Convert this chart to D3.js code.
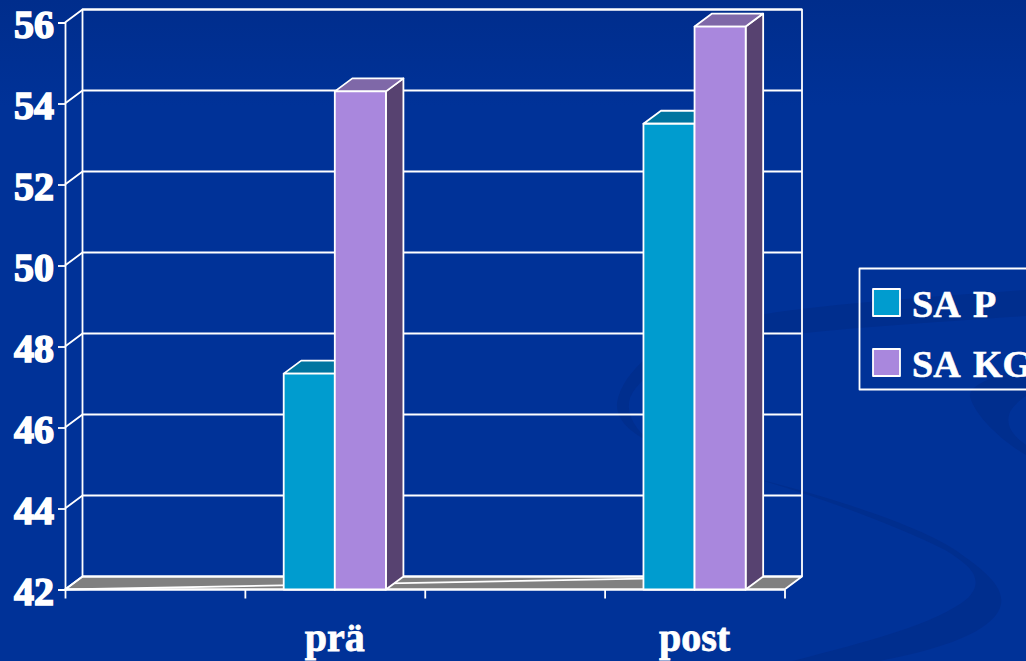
<!DOCTYPE html>
<html>
<head>
<meta charset="utf-8">
<script src="https://cdn.jsdelivr.net/npm/d3@7"></script>
<style>
    html, body { margin: 0; padding: 0; background: #003298; overflow: hidden; }
    text { font-family: "Liberation Serif", serif; font-weight: bold; fill: #fff; stroke: #fff; }
</style>
</head>
<body>
<div id="chart"></div>
<script>
// values
const categories = ["", "prä", " ", "post"];
const saP = [null, 47.33, null, 53.5];
const saKG = [null, 54.3, null, 55.9];
const seriesNames = ["SA P", "SA KG"];
const yTicks = [42, 44, 46, 48, 50, 52, 54, 56];
const floorStreak = [42, 42.27];

const colors = {
    "SA P": { front: "#009ccf", top: "#0075a0", side: "#00587a" },
    "SA KG": { front: "#a987dd", top: "#7f68a8", side: "#574270" }
};

const W = 1026, H = 661;
const depth = { x: 17.5, y: -13 };

const svg = d3.select("#chart")
    .append("svg")
    .attr("width", W)
    .attr("height", H)
    .style("display", "block");

// background
const defs = svg.append("defs");
const bg = defs.append("linearGradient")
    .attr("id", "bg")
    .attr("x1", 0).attr("y1", 0).attr("x2", 0).attr("y2", 1);
bg.append("stop").attr("offset", "0").attr("stop-color", "#002d8c");
bg.append("stop").attr("offset", "0.16").attr("stop-color", "#003298");
bg.append("stop").attr("offset", "1").attr("stop-color", "#003298");

svg.append("rect").attr("width", W).attr("height", H).attr("fill", "url(#bg)");

const swooshes = [
    "M750,477 C830,497 930,528 965,557 C995,578 1008,595 998,612 C975,650 860,665 790,675 L740,675 C830,650 930,630 968,598 C985,580 972,566 945,550 C895,525 820,497 750,477 Z",
    "M1026,290 C920,298 800,305 720,322 C660,338 622,372 617,403 C616,420 630,432 650,442 C632,425 626,412 630,398 C642,370 690,345 760,338 C840,328 940,322 1026,316 Z",
    "M1026,368 C995,375 968,385 970,397 C975,415 1000,440 1026,455 L1026,445 C1012,435 1005,425 1010,412 C1014,405 1020,400 1026,396 Z"
];
svg.append("g")
    .selectAll("path")
    .data(swooshes)
    .join("path")
    .attr("d", d => d)
    .attr("fill", "#002e8e");

// scales
const x = d3.scaleBand()
    .domain(d3.range(categories.length))
    .range([65, 784.5]);

const xGroup = d3.scaleBand()
    .domain(seriesNames)
    .range([0, x.bandwidth()])
    .paddingOuter(0.76)
    .paddingInner(0);

const y = d3.scaleLinear()
    .domain([42, 56])
    .range([589.5, 22.5]);

const poly = pts => pts.map(p => p.join(",")).join(" ");
const line = { stroke: "#fff", "stroke-width": 1.8, "stroke-linejoin": "round" };
function style(sel) {
    Object.keys(line).forEach(k => sel.attr(k, line[k]));
    return sel;
}

const [x0, x1] = x.range();
const [y0, y1] = y.range();

// floor
style(svg.append("polygon")
    .attr("points", poly([[x0, y0], [x0 + depth.x, y0 + depth.y], [x1 + depth.x, y0 + depth.y], [x1, y0]]))
    .attr("fill", "#808080"));

// thin streak on the floor
const streakEnd = x(3) + xGroup(seriesNames[0]);
style(svg.append("line")
    .attr("x1", x0).attr("y1", y(floorStreak[0]))
    .attr("x2", streakEnd).attr("y2", y(floorStreak[1]))
    .attr("fill", "none"));

// back wall and grid
const wall = svg.append("g").attr("fill", "none");
style(wall.append("polyline")
    .attr("points", poly([[x0 + depth.x, y0 + depth.y], [x0 + depth.x, y1 + depth.y], [x1 + depth.x, y1 + depth.y], [x1 + depth.x, y0 + depth.y]])));

yTicks.forEach(t => {
    style(wall.append("polyline")
        .attr("points", poly([[x0, y(t)], [x0 + depth.x, y(t) + depth.y], [x1 + depth.x, y(t) + depth.y]])));
});

// axes
const yAxis = d3.axisLeft(y)
    .tickValues(yTicks)
    .tickSize(7)
    .tickPadding(4);

const yG = svg.append("g")
    .attr("transform", `translate(${x0},0)`)
    .call(yAxis);
yG.selectAll(".domain, .tick line").attr("stroke", "#fff").attr("stroke-width", 1.8);
yG.selectAll("text")
    .attr("font-size", 40)
    .attr("stroke-width", 1.6)
    .attr("dy", "0.37em")
    .attr("font-family", "Liberation Serif");

const xEdges = d3.scaleLinear()
    .domain([0, categories.length])
    .range(x.range());

const xG = svg.append("g")
    .attr("transform", `translate(0,${y0})`)
    .call(d3.axisBottom(xEdges).ticks(categories.length).tickSize(9).tickFormat(""));
xG.selectAll(".domain").attr("stroke", "#fff").attr("stroke-width", 1.8).attr("d", `M${x0},0H${x1}`);
xG.selectAll(".tick line").attr("stroke", "#fff").attr("stroke-width", 1.8);

svg.append("g")
    .selectAll("text")
    .data(categories)
    .join("text")
    .attr("x", (d, i) => x(i) + x.bandwidth() / 2)
    .attr("y", 651)
    .attr("text-anchor", "middle")
    .attr("font-size", 40)
    .attr("stroke-width", 0.8)
    .text(d => d.trim());

// bars, drawn per category and series so the right bar overlaps the left one
const bars = [];
categories.forEach((c, i) => {
    [saP, saKG].forEach((values, s) => {
        if (values[i] != null) bars.push({ i, name: seriesNames[s], value: values[i] });
    });
});

const barG = svg.append("g")
    .selectAll("g")
    .data(bars)
    .join("g");

barG.each(function (d) {
    const g = d3.select(this);
    const left = x(d.i) + xGroup(d.name);
    const right = left + xGroup.bandwidth();
    const top = y(d.value);
    const c = colors[d.name];

    style(g.append("polygon")
        .attr("points", poly([[right, y0], [right + depth.x, y0 + depth.y], [right + depth.x, top + depth.y], [right, top]]))
        .attr("fill", c.side));
    style(g.append("polygon")
        .attr("points", poly([[left, top], [left + depth.x, top + depth.y], [right + depth.x, top + depth.y], [right, top]]))
        .attr("fill", c.top));
    style(g.append("rect")
        .attr("x", left)
        .attr("y", top)
        .attr("width", right - left)
        .attr("height", y0 - top)
        .attr("fill", c.front));
});

// legend, the last label runs off the page as it does in the reference
const legend = svg.append("g");
style(legend.append("rect")
    .attr("x", 859.5).attr("y", 268.5)
    .attr("width", 200).attr("height", 121)
    .attr("fill", "none"));

const legendItems = legend.selectAll("g")
    .data(seriesNames)
    .join("g")
    .attr("transform", (d, i) => `translate(873,${289 + i * 60})`);

style(legendItems.append("rect")
    .attr("width", 27).attr("height", 27)
    .attr("fill", d => colors[d].front));

legendItems.append("text")
    .attr("x", 39)
    .attr("y", 28)
    .attr("font-size", 38)
    .attr("stroke-width", 0.6)
    .attr("word-spacing", 5)
    .text(d => d);
</script>
</body>
</html>
